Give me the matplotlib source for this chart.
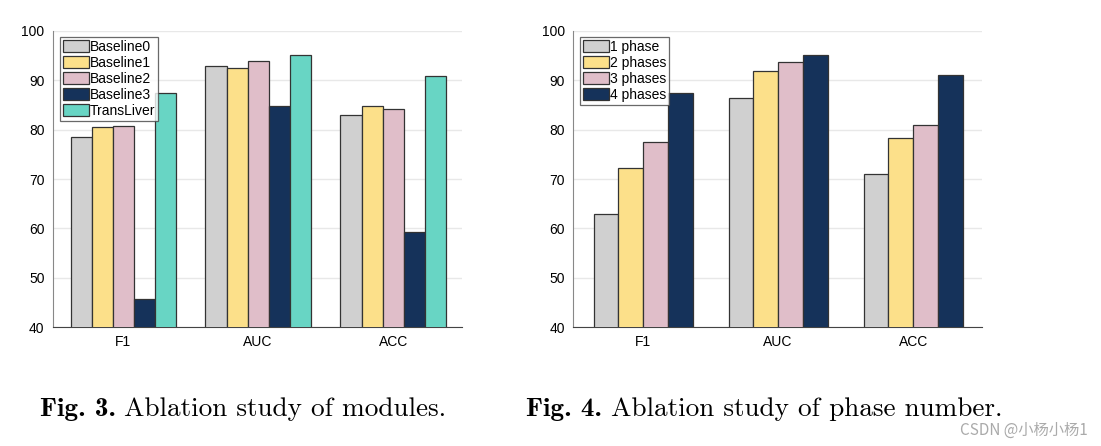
import matplotlib
matplotlib.use('Agg')
import numpy as np
import matplotlib.pyplot as plt

plt.rcParams['font.family'] = ['Liberation Sans', 'DejaVu Sans']
plt.rcParams['axes.unicode_minus'] = False

metrics = ['F1', 'AUC', 'ACC']

modules = ['Baseline0', 'Baseline1', 'Baseline2', 'Baseline3', 'TransLiver']
baseline0 = [78.6, 93.0, 83.0]
baseline1 = [80.5, 92.4, 84.7]
baseline2 = [80.7, 94.0, 84.1]
baseline3 = [45.7, 84.7, 59.2]
transliver = [87.4, 95.2, 90.9]

phases = ['1 phase', '2 phases', '3 phases', '4 phases']
phase1 = [63.0, 86.5, 71.0]
phase2 = [72.3, 91.9, 78.3]
phase3 = [77.6, 93.7, 80.9]
phase4 = [87.4, 95.2, 91.0]

colors5 = ['#d0d0d0', '#fce08a', '#e0bec9', '#15325a', '#68d5c4']
colors4 = ['#d0d0d0', '#fce08a', '#e0bec9', '#15325a']


def draw(ax, series, names, colors, group_w):
    x = np.arange(len(metrics))
    n = len(series)
    w = group_w / n
    for i, (vals, name, c) in enumerate(zip(series, names, colors)):
        ax.bar(x - group_w / 2 + w * (i + 0.5), vals, w, color=c,
               edgecolor='#333333', linewidth=0.9, label=name, zorder=3)
    ax.set_ylim(40, 100)
    ax.set_xlim(-0.52, 2.51)
    ax.set_xticks(x)
    ax.set_xticklabels(metrics)
    ax.set_yticks(range(40, 101, 10))
    ax.tick_params(length=0, labelsize=10, pad=6)
    ax.yaxis.grid(True, color='#e8e8e8', linewidth=1.0, zorder=0)
    for s in ['top', 'right']:
        ax.spines[s].set_visible(False)
    ax.spines['bottom'].set_color('#444444')
    ax.spines['left'].set_color('#888888')
    leg = ax.legend(loc='upper left', bbox_to_anchor=(0.01, 0.99),
                    fontsize=10, fancybox=False, handletextpad=0.05,
                    handlelength=1.9, handleheight=1.0, borderpad=0.2,
                    labelspacing=0.15, borderaxespad=0.2)
    leg.get_frame().set_edgecolor('#444444')
    leg.get_frame().set_linewidth(0.9)


def caption(fig, x, y, bold, rest, size):
    t = fig.text(x, y, bold, fontsize=size, family='cmb10', ha='left', va='baseline')
    fig.canvas.draw()
    bb = t.get_window_extent()
    x2 = fig.transFigure.inverted().transform((bb.x1, bb.y0))[0]
    fig.text(x2 + 0.008, y, rest, fontsize=size, family='cmr10', ha='left', va='baseline')


fig = plt.figure(figsize=(11.01, 4.46), dpi=100)
ax1 = fig.add_axes([0.0481, 0.2668, 0.3715, 0.6637])
ax2 = fig.add_axes([0.5204, 0.2668, 0.3715, 0.6637])

draw(ax1, [baseline0, baseline1, baseline2, baseline3, transliver], modules, colors5, 0.78)
draw(ax2, [phase1, phase2, phase3, phase4], phases, colors4, 0.733)

caption(fig, 0.036, 0.068, 'Fig. 3.', 'Ablation study of modules.', 19.6)
caption(fig, 0.478, 0.068, 'Fig. 4.', 'Ablation study of phase number.', 19.6)
fig.text(0.988, 0.025, 'CSDN @小杨小杨1', fontsize=11, color='#aaaaaa', ha='right',
         va='baseline', family=['Noto Sans CJK SC', 'DejaVu Sans'])

fig.savefig('out.png', dpi=100)
